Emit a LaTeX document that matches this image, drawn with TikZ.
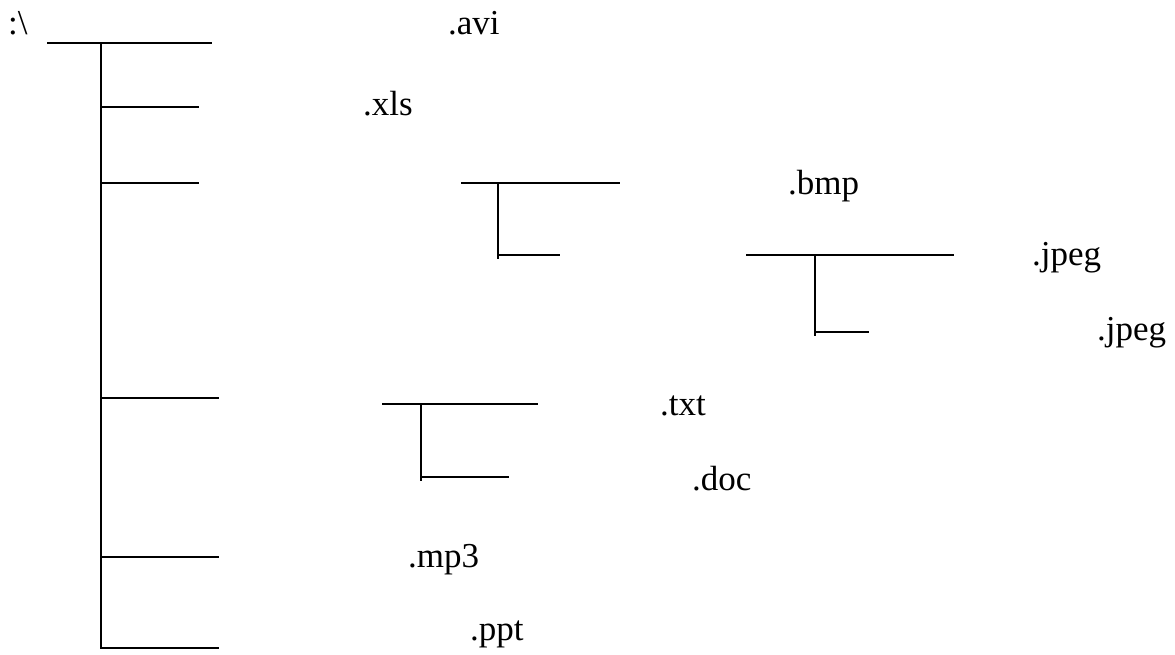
\documentclass[tikz,border=0pt]{standalone}
\usepackage{fontspec}
\setmainfont{Liberation Serif}
\begin{document}
\begin{tikzpicture}[x=1pt,y=-1pt,
  lbl/.style={anchor=base west,inner sep=0pt,font=\fontsize{35}{40}\selectfont},
  branch/.style={line width=1.5pt,line cap=rect}]
\useasboundingbox (0,0) rectangle (1175,655);
% labels
\node[lbl] (root) at (8,35) {:\textbackslash};
\node[lbl] (avi) at (448,35) {.avi};
\node[lbl] (xls) at (363,116) {.xls};
\node[lbl] (bmp) at (788,195) {.bmp};
\node[lbl] (jpeg1) at (1032,265) {.jpeg};
\node[lbl] (jpeg2) at (1097,340) {.jpeg};
\node[lbl] (txt) at (660,415) {.txt};
\node[lbl] (doc) at (692,490) {.doc};
\node[lbl] (mp3) at (408,567) {.mp3};
\node[lbl] (ppt) at (470,640) {.ppt};
% main tree
\coordinate (t0) at (48,43);
\coordinate (t1) at (211,43);
\coordinate (v0) at (101,43);
\coordinate (v1) at (101,648);
\coordinate (b1) at (101,107); \coordinate (e1) at (198,107);
\coordinate (b2) at (101,183); \coordinate (e2) at (198,183);
\coordinate (b3) at (101,398); \coordinate (e3) at (218,398);
\coordinate (b4) at (101,557); \coordinate (e4) at (218,557);
\coordinate (b5) at (101,648); \coordinate (e5) at (218,648);
\draw[branch] (t0) -- (t1);
\draw[branch] (v0) -- (v1);
\draw[branch] (b1) -- (e1);
\draw[branch] (b2) -- (e2);
\draw[branch] (b3) -- (e3);
\draw[branch] (b4) -- (e4);
\draw[branch] (b5) -- (e5);
% subtree bmp
\coordinate (s1a) at (462,183); \coordinate (s1b) at (619,183);
\coordinate (s1v0) at (498,183); \coordinate (s1v1) at (498,258);
\coordinate (s1c) at (498,255); \coordinate (s1d) at (559,255);
\draw[branch] (s1a) -- (s1b);
\draw[branch] (s1v0) -- (s1v1);
\draw[branch] (s1c) -- (s1d);
% subtree jpeg
\coordinate (s2a) at (747,255); \coordinate (s2b) at (953,255);
\coordinate (s2v0) at (815,255); \coordinate (s2v1) at (815,335);
\coordinate (s2c) at (815,332); \coordinate (s2d) at (868,332);
\draw[branch] (s2a) -- (s2b);
\draw[branch] (s2v0) -- (s2v1);
\draw[branch] (s2c) -- (s2d);
% subtree txt
\coordinate (s3a) at (383,404); \coordinate (s3b) at (537,404);
\coordinate (s3v0) at (421,404); \coordinate (s3v1) at (421,480);
\coordinate (s3c) at (421,477); \coordinate (s3d) at (508,477);
\draw[branch] (s3a) -- (s3b);
\draw[branch] (s3v0) -- (s3v1);
\draw[branch] (s3c) -- (s3d);
\end{tikzpicture}
\end{document}
